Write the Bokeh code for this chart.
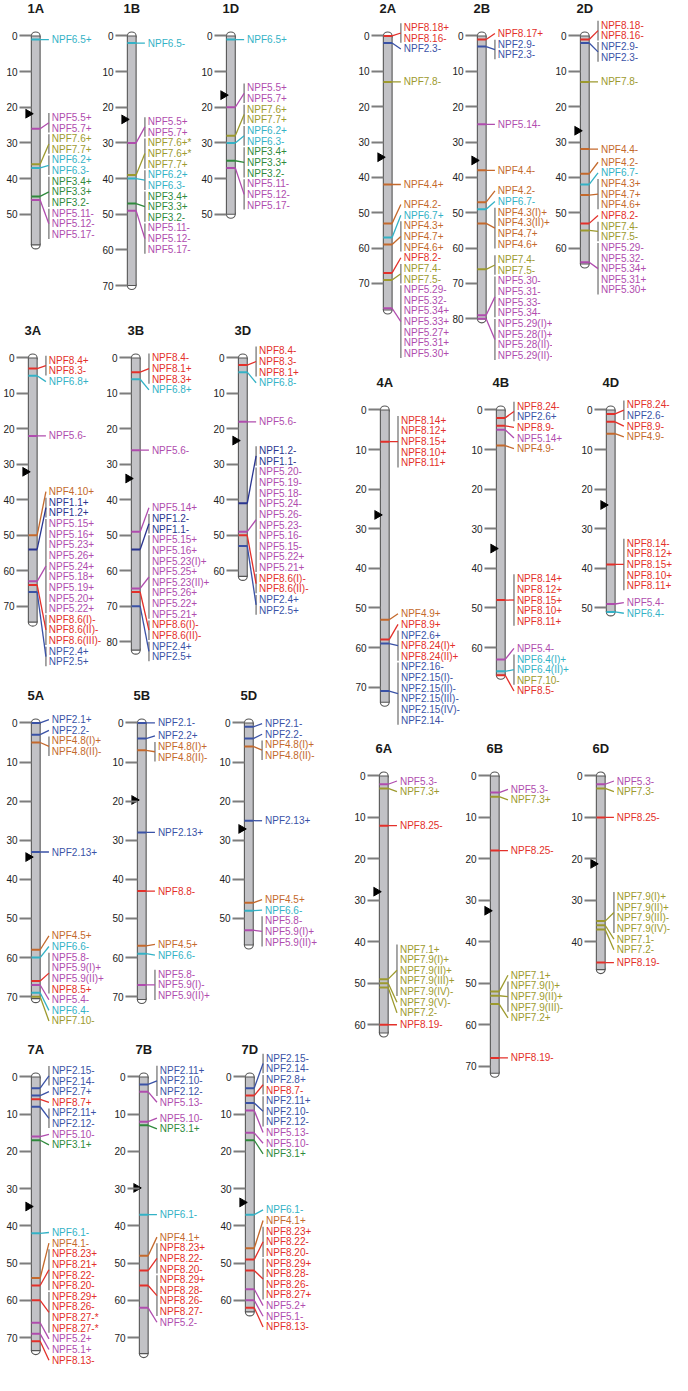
import math
from bokeh.plotting import figure
from bokeh.layouts import row, column
from bokeh.models import Range1d, FixedTicker, ColumnDataSource, Spacer
from bokeh.core.properties import value
from bokeh.embed import file_html
from bokeh.resources import INLINE

# ---------------- data ----------------
FAMILY_COLOR = {
    "NPF1": "#2a3590", "NPF2": "#3a52a6", "NPF3": "#2f8a3c", "NPF4": "#c4692c",
    "NPF5": "#b04cae", "NPF6": "#33b2c6", "NPF7": "#9d9a2e", "NPF8": "#e3302a",
}

CHR_LENGTH = {
    "1A": 58.6, "1B": 70, "1D": 50,
    "2A": 77.5, "2B": 80, "2D": 64.5,
    "3A": 74.5, "3B": 82.4, "3D": 61.6,
    "4A": 73.8, "4B": 67, "4D": 51,
    "5A": 70.5, "5B": 70.7, "5D": 56.8,
    "6A": 62, "6B": 71.7, "6D": 46.7,
    "7A": 73.5, "7B": 74.3, "7D": 63.1,
}
CENTROMERE = {
    "1A": 21.8, "1B": 23.4, "1D": 16.6,
    "2A": 34.3, "2B": 35.2, "2D": 26.8,
    "3A": 32.1, "3B": 34.0, "3D": 23.3,
    "4A": 26.5, "4B": 35.0, "4D": 24.0,
    "5A": 34.3, "5B": 19.7, "5D": 27.1,
    "6A": 27.9, "6B": 32.5, "6D": 21.2,
    "7A": 34.8, "7B": 29.8, "7D": 33.7,
}

# (position cM, family of the marker line, gene labels)
G_1A = [(1, "NPF6", ["NPF6.5+"]), (26, "NPF5", ["NPF5.5+", "NPF5.7+"]),
        (36, "NPF7", ["NPF7.6+", "NPF7.7+"]), (37, "NPF6", ["NPF6.2+", "NPF6.3-"]),
        (45, "NPF3", ["NPF3.4+", "NPF3.3+", "NPF3.2-"]),
        (46, "NPF5", ["NPF5.11-", "NPF5.12-", "NPF5.17-"])]
G_1B = [(2, "NPF6", ["NPF6.5-"]), (30, "NPF5", ["NPF5.5+", "NPF5.7+"]),
        (39, "NPF7", ["NPF7.6+*", "NPF7.6+*", "NPF7.7+"]), (40, "NPF6", ["NPF6.2+", "NPF6.3-"]),
        (47, "NPF3", ["NPF3.4+", "NPF3.3+", "NPF3.2-"]),
        (49, "NPF5", ["NPF5.11-", "NPF5.12-", "NPF5.17-"])]
G_1D = [(1, "NPF6", ["NPF6.5+"]), (20, "NPF5", ["NPF5.5+", "NPF5.7+"]),
        (28, "NPF7", ["NPF7.6+", "NPF7.7+"]), (30, "NPF6", ["NPF6.2+", "NPF6.3-"]),
        (35, "NPF3", ["NPF3.4+", "NPF3.3+", "NPF3.2-"]),
        (37, "NPF5", ["NPF5.11-", "NPF5.12-", "NPF5.17-"])]
G_2A = [(0, "NPF8", ["NPF8.18+", "NPF8.16-"]), (2, "NPF2", ["NPF2.3-"]), (13, "NPF7", ["NPF7.8-"]),
        (42, "NPF4", ["NPF4.4+"]), (53, "NPF4", ["NPF4.2-"]), (57, "NPF6", ["NPF6.7+"]),
        (59, "NPF4", ["NPF4.3+", "NPF4.7+", "NPF4.6+"]), (67, "NPF8", ["NPF8.2-"]),
        (69, "NPF7", ["NPF7.4-", "NPF7.5-"]),
        (77, "NPF5", ["NPF5.29-", "NPF5.32-", "NPF5.34+", "NPF5.33+", "NPF5.27+", "NPF5.31+", "NPF5.30+"])]
G_2B = [(1, "NPF8", ["NPF8.17+"]), (3, "NPF2", ["NPF2.9-", "NPF2.3-"]), (25, "NPF5", ["NPF5.14-"]),
        (38, "NPF4", ["NPF4.4-"]), (47, "NPF4", ["NPF4.2-"]), (49, "NPF6", ["NPF6.7-"]),
        (53, "NPF4", ["NPF4.3(I)+", "NPF4.3(II)+", "NPF4.7+", "NPF4.6+"]),
        (66, "NPF7", ["NPF7.4-", "NPF7.5-"]),
        (79, "NPF5", ["NPF5.30-", "NPF5.31-", "NPF5.33-", "NPF5.34-"]),
        (80, "NPF5", ["NPF5.29(I)+", "NPF5.28(I)+", "NPF5.28(II)-", "NPF5.29(II)-"])]
G_2D = [(1, "NPF8", ["NPF8.18-", "NPF8.16-"]), (2, "NPF2", ["NPF2.9-", "NPF2.3-"]), (13, "NPF7", ["NPF7.8-"]),
        (32, "NPF4", ["NPF4.4-"]), (39, "NPF4", ["NPF4.2-"]), (42, "NPF6", ["NPF6.7-"]),
        (45, "NPF4", ["NPF4.3+", "NPF4.7+", "NPF4.6+"]), (53, "NPF8", ["NPF8.2-"]),
        (55, "NPF7", ["NPF7.4-", "NPF7.5-"]),
        (64, "NPF5", ["NPF5.29-", "NPF5.32-", "NPF5.34+", "NPF5.31+", "NPF5.30+"])]
G_3A = [(3, "NPF8", ["NPF8.4+", "NPF8.3-"]), (5, "NPF6", ["NPF6.8+"]), (22, "NPF5", ["NPF5.6-"]),
        (50, "NPF4", ["NPF4.10+"]), (54, "NPF1", ["NPF1.1+", "NPF1.2+"]),
        (63, "NPF5", ["NPF5.15+", "NPF5.16+", "NPF5.23+", "NPF5.26+", "NPF5.24+", "NPF5.18+",
                      "NPF5.19+", "NPF5.20+", "NPF5.22+"]),
        (64, "NPF8", ["NPF8.6(I)-", "NPF8.6(II)-", "NPF8.6(III)-"]),
        (66, "NPF2", ["NPF2.4+", "NPF2.5+"])]
G_3B = [(4, "NPF8", ["NPF8.4-", "NPF8.1+", "NPF8.3+"]), (6, "NPF6", ["NPF6.8+"]), (26, "NPF5", ["NPF5.6-"]),
        (49, "NPF5", ["NPF5.14+"]), (54, "NPF1", ["NPF1.2-", "NPF1.1-"]),
        (65, "NPF5", ["NPF5.15+", "NPF5.16+", "NPF5.23(I)+", "NPF5.25+", "NPF5.23(II)+", "NPF5.26+",
                      "NPF5.22+", "NPF5.21+"]),
        (66, "NPF8", ["NPF8.6(I)-", "NPF8.6(II)-"]), (70, "NPF2", ["NPF2.4+", "NPF2.5+"])]
G_3D = [(2, "NPF8", ["NPF8.4-", "NPF8.3-", "NPF8.1+"]), (4, "NPF6", ["NPF6.8-"]), (18, "NPF5", ["NPF5.6-"]),
        (41, "NPF1", ["NPF1.2-", "NPF1.1-"]),
        (49, "NPF5", ["NPF5.20-", "NPF5.19-", "NPF5.18-", "NPF5.24-", "NPF5.26-", "NPF5.23-",
                      "NPF5.16-", "NPF5.15-", "NPF5.22+", "NPF5.21+"]),
        (50, "NPF8", ["NPF8.6(I)-", "NPF8.6(II)-"]), (53, "NPF2", ["NPF2.4+", "NPF2.5+"])]
G_4A = [(8, "NPF8", ["NPF8.14+", "NPF8.12+", "NPF8.15+", "NPF8.10+", "NPF8.11+"]),
        (53, "NPF4", ["NPF4.9+"]), (58, "NPF8", ["NPF8.9+"]),
        (59, "NPF2", ["NPF2.6+", "NPF8.24(I)+", "NPF8.24(II)+"]),
        (71, "NPF2", ["NPF2.16-", "NPF2.15(I)-", "NPF2.15(II)-", "NPF2.15(III)-", "NPF2.15(IV)-", "NPF2.14-"])]
G_4B = [(2, "NPF8", ["NPF8.24-", "NPF2.6+"]), (4, "NPF8", ["NPF8.9-"]), (5, "NPF5", ["NPF5.14+"]),
        (9, "NPF4", ["NPF4.9-"]),
        (48, "NPF8", ["NPF8.14+", "NPF8.12+", "NPF8.15+", "NPF8.10+", "NPF8.11+"]),
        (63, "NPF5", ["NPF5.4-"]), (66, "NPF6", ["NPF6.4(I)+", "NPF6.4(II)+", "NPF7.10-"]),
        (67, "NPF8", ["NPF8.5-"])]
G_4D = [(1, "NPF8", ["NPF8.24-", "NPF2.6-"]), (3, "NPF8", ["NPF8.9-"]), (6, "NPF4", ["NPF4.9-"]),
        (39, "NPF8", ["NPF8.14-", "NPF8.12+", "NPF8.15+", "NPF8.10+", "NPF8.11+"]),
        (49, "NPF5", ["NPF5.4-"]), (51, "NPF6", ["NPF6.4-"])]
G_5A = [(0, "NPF2", ["NPF2.1+"]), (3, "NPF2", ["NPF2.2-"]), (5, "NPF4", ["NPF4.8(I)+", "NPF4.8(II)-"]),
        (33, "NPF2", ["NPF2.13+"]), (58, "NPF4", ["NPF4.5+"]), (60, "NPF6", ["NPF6.6-"]),
        (66, "NPF8", ["NPF5.8-", "NPF5.9(I)+", "NPF5.9(II)+", "NPF8.5+"]),
        (67, "NPF5", ["NPF5.4-"]), (69, "NPF6", ["NPF6.4-"]), (70, "NPF7", ["NPF7.10-"])]
G_5B = [(0, "NPF2", ["NPF2.1-"]), (4, "NPF2", ["NPF2.2+"]), (7, "NPF4", ["NPF4.8(I)+", "NPF4.8(II)-"]),
        (28, "NPF2", ["NPF2.13+"]), (43, "NPF8", ["NPF8.8-"]), (57, "NPF4", ["NPF4.5+"]),
        (59, "NPF6", ["NPF6.6-"]), (67, "NPF5", ["NPF5.8-", "NPF5.9(I)-", "NPF5.9(II)+"])]
G_5D = [(1, "NPF2", ["NPF2.1-"]), (4, "NPF2", ["NPF2.2-"]), (6, "NPF4", ["NPF4.8(I)+", "NPF4.8(II)-"]),
        (25, "NPF2", ["NPF2.13+"]), (46, "NPF4", ["NPF4.5+"]), (48, "NPF6", ["NPF6.6-"]),
        (53, "NPF5", ["NPF5.8-", "NPF5.9(I)+", "NPF5.9(II)+"])]
G_6A = [(2, "NPF5", ["NPF5.3-"]), (3, "NPF7", ["NPF7.3+"]), (12, "NPF8", ["NPF8.25-"]),
        (49, "NPF7", ["NPF7.1+", "NPF7.9(I)+", "NPF7.9(II)+", "NPF7.9(III)+", "NPF7.9(IV)-"]),
        (50, "NPF7", ["NPF7.9(V)-"]), (51, "NPF7", ["NPF7.2-"]), (60, "NPF8", ["NPF8.19-"])]
G_6B = [(4, "NPF5", ["NPF5.3-"]), (5, "NPF7", ["NPF7.3+"]), (18, "NPF8", ["NPF8.25-"]),
        (52, "NPF7", ["NPF7.1+"]), (53, "NPF7", ["NPF7.9(I)+", "NPF7.9(II)+", "NPF7.9(III)-"]),
        (55, "NPF7", ["NPF7.2+"]), (68, "NPF8", ["NPF8.19-"])]
G_6D = [(2, "NPF5", ["NPF5.3-"]), (3, "NPF7", ["NPF7.3-"]), (10, "NPF8", ["NPF8.25-"]),
        (35, "NPF7", ["NPF7.9(I)+", "NPF7.9(II)+", "NPF7.9(III)-", "NPF7.9(IV)-"]),
        (36, "NPF7", ["NPF7.1-"]), (37, "NPF7", ["NPF7.2-"]), (45, "NPF8", ["NPF8.19-"])]
G_7A = [(3, "NPF2", ["NPF2.15-", "NPF2.14-"]), (5, "NPF2", ["NPF2.7+"]), (6, "NPF8", ["NPF8.7+"]),
        (8, "NPF2", ["NPF2.11+", "NPF2.12-"]), (16, "NPF5", ["NPF5.10-"]), (17, "NPF3", ["NPF3.1+"]),
        (42, "NPF6", ["NPF6.1-"]), (54, "NPF4", ["NPF4.1-"]),
        (56, "NPF8", ["NPF8.23+", "NPF8.21+", "NPF8.22-", "NPF8.20-"]),
        (60, "NPF8", ["NPF8.29+", "NPF8.26-", "NPF8.27-*", "NPF8.27-*"]),
        (66, "NPF5", ["NPF5.2+"]), (69, "NPF5", ["NPF5.1+"]), (71, "NPF8", ["NPF8.13-"])]
G_7B = [(2, "NPF2", ["NPF2.11+", "NPF2.10-", "NPF2.12-"]), (4, "NPF5", ["NPF5.13-"]),
        (12, "NPF5", ["NPF5.10-"]), (13, "NPF3", ["NPF3.1+"]), (37, "NPF6", ["NPF6.1-"]),
        (48, "NPF4", ["NPF4.1+"]), (52, "NPF8", ["NPF8.23+", "NPF8.22-", "NPF8.20-"]),
        (56, "NPF8", ["NPF8.29+", "NPF8.28-", "NPF8.26-", "NPF8.27-"]), (62, "NPF5", ["NPF5.2-"])]
G_7D = [(3, "NPF2", ["NPF2.15-", "NPF2.14-"]), (5, "NPF8", ["NPF2.8+", "NPF8.7-"]),
        (7, "NPF2", ["NPF2.11+", "NPF2.10-", "NPF2.12-"]), (9, "NPF5", ["NPF5.13-"]),
        (15, "NPF5", ["NPF5.10-"]), (17, "NPF3", ["NPF3.1+"]), (37, "NPF6", ["NPF6.1-"]),
        (46, "NPF4", ["NPF4.1+"]), (49, "NPF8", ["NPF8.23+", "NPF8.22-", "NPF8.20-"]),
        (52, "NPF8", ["NPF8.29+", "NPF8.28-", "NPF8.26-", "NPF8.27+"]),
        (57, "NPF5", ["NPF5.2+"]), (60, "NPF5", ["NPF5.1-"]), (62, "NPF8", ["NPF8.13-"])]

GROUPS = {"1A": G_1A, "1B": G_1B, "1D": G_1D, "2A": G_2A, "2B": G_2B, "2D": G_2D,
          "3A": G_3A, "3B": G_3B, "3D": G_3D, "4A": G_4A, "4B": G_4B, "4D": G_4D,
          "5A": G_5A, "5B": G_5B, "5D": G_5D, "6A": G_6A, "6B": G_6B, "6D": G_6D,
          "7A": G_7A, "7B": G_7B, "7D": G_7D}

# ---------------- layout constants ----------------
ROW_CHROMS = {1: ["1A", "1B", "1D"], 2: ["2A", "2B", "2D"], 3: ["3A", "3B", "3D"],
              4: ["4A", "4B", "4D"], 5: ["5A", "5B", "5D"], 6: ["6A", "6B", "6D"],
              7: ["7A", "7B", "7D"]}
ROW_PX_PER_CM = {1: 3.62, 2: 3.59, 3: 3.60, 4: 4.02, 5: 3.97, 6: 4.21, 7: 3.78}
ROW_HEIGHT_PX = {1: 327.3, 3: 371.0, 5: 359.0, 7: 333.7, 2: 380.0, 4: 371.3, 6: 348.7}
REF_X = {"1A": 26, "1B": 125.7, "1D": 227, "2A": 389.3, "2B": 486.7, "2D": 592.3,
         "3A": 23.3, "3B": 129.3, "3D": 240, "4A": 386, "4B": 506, "4D": 619.3,
         "5A": 26.7, "5B": 136, "5D": 245.7, "6A": 385.3, "6B": 500, "6D": 609.3,
         "7A": 26.7, "7B": 137.7, "7D": 247.3}
GV = 0.985          # vertical compression to fit window
TOP_PX = 36         # space above 0 cM
STEP_PX = 10.8      # label line spacing
X0, XS, XREF0 = 34, 0.97, 23.3
MB_LEFT = 20
CO = 6              # chromosome offset inside frame
CW = 9              # chromosome width (px)
BX = CW + 9         # bracket x
LX = CW + 12        # label x
FONT = value("Liberation Sans")


def fam_of(label):
    return label.split(".")[0]


def place_labels(groups, step):
    gs = sorted(groups, key=lambda g: g[0])
    blocks = []
    for i, (pos, fam, labels) in enumerate(gs):
        blocks.append([pos * len(labels), len(labels), [i]])
        while len(blocks) > 1:
            s1, n1, m1 = blocks[-2]
            s2, n2, m2 = blocks[-1]
            if s1 / n1 + n1 * step / 2 > s2 / n2 - n2 * step / 2 - 1e-9:
                blocks[-2:] = [[s1 + s2, n1 + n2, m1 + m2]]
            else:
                break
    out = []
    for s, n, members in blocks:
        top = s / n - n * step / 2
        k = 0
        for gi in members:
            m = len(gs[gi][2])
            out.append((gs[gi], [top + (k + j + 0.5) * step for j in range(m)]))
            k += m
    return out


def make_fig(name, width, height, k_ref):
    kk = k_ref * GV
    T = TOP_PX * GV
    L = CHR_LENGTH[name]
    p = figure(width=width, height=height,
               x_range=Range1d(-CO, width - MB_LEFT - CO),
               y_range=Range1d((height - T) / kk, -T / kk),
               output_backend="svg", toolbar_location=None, x_axis_location=None,
               min_border=0, min_border_left=MB_LEFT)
    p.outline_line_color = None
    p.grid.visible = False
    p.background_fill_color = "white"
    p.border_fill_color = "white"
    ax = p.yaxis[0]
    ax.ticker = FixedTicker(ticks=list(range(0, int(L // 10) * 10 + 1, 10)))
    ax.axis_line_color = None
    ax.major_tick_in = CO
    ax.major_tick_out = 6
    ax.major_tick_line_color = "#7d7d7d"
    ax.major_tick_line_width = 2
    ax.minor_tick_line_color = None
    ax.major_label_standoff = 2
    ax.major_label_text_font = "Liberation Sans"
    ax.major_label_text_font_size = "10px"
    ax.major_label_text_color = "#222222"

    # chromosome
    cap_h = 8 / kk
    p.ellipse(x=[CW / 2, CW / 2], y=[0, L], width=CW, height=cap_h,
              fill_color="white", line_color="#555555", line_width=1.1)
    p.quad(left=[0], right=[CW], top=[0], bottom=[L], fill_color="#c2c2c6",
           line_color="#555555", line_width=1.1)
    p.scatter(x=[-3.4], y=[CENTROMERE[name]], marker="triangle", size=9,
              angle=-math.pi / 2, color="black")
    p.text(x=[CW / 2], y=[-28 * GV / kk], text=[name], text_align="center",
           text_baseline="middle", text_font=FONT, text_font_size="13px",
           text_font_style="bold", text_color="#1a1a1a")

    step = STEP_PX * GV / kk
    mk = dict(x0=[], y0=[], x1=[], y1=[], c=[])
    cn = dict(x0=[], y0=[], x1=[], y1=[], c=[])
    br = dict(x0=[], y0=[], x1=[], y1=[])
    tx = dict(x=[], y=[], t=[], c=[])
    for (pos, fam, labels), ys in place_labels(GROUPS[name], step):
        col = FAMILY_COLOR[fam]
        yc = sum(ys) / len(ys)
        mk["x0"].append(0); mk["y0"].append(pos); mk["x1"].append(CW); mk["y1"].append(pos); mk["c"].append(col)
        cn["x0"].append(CW); cn["y0"].append(pos); cn["x1"].append(BX); cn["y1"].append(yc); cn["c"].append(col)
        if len(labels) > 1:
            br["x0"].append(BX); br["x1"].append(BX)
            br["y0"].append(ys[0] - 0.42 * step); br["y1"].append(ys[-1] + 0.42 * step)
        for lab, y in zip(labels, ys):
            tx["x"].append(LX); tx["y"].append(y); tx["t"].append(lab)
            tx["c"].append(FAMILY_COLOR[fam_of(lab)])
    p.segment("x0", "y0", "x1", "y1", source=ColumnDataSource(br), line_color="#8a8a8a", line_width=1.5)
    p.segment("x0", "y0", "x1", "y1", source=ColumnDataSource(cn), line_color="c", line_width=1.3)
    p.segment("x0", "y0", "x1", "y1", source=ColumnDataSource(mk), line_color="c", line_width=2)
    p.text("x", "y", text="t", text_color="c", source=ColumnDataSource(tx),
           text_font=FONT, text_font_size="10px", text_baseline="middle", text_align="left")
    return p


def fig_left(n):
    return int(round(X0 + (REF_X[n] - XREF0) * XS - (MB_LEFT + CO)))


def build_column(rows, col_left, col_right):
    kids = []
    for r in rows:
        names = ROW_CHROMS[r]
        lefts = [fig_left(n) for n in names]
        h = int(round(ROW_HEIGHT_PX[r] * GV))
        items = []
        if lefts[0] > col_left:
            items.append(Spacer(width=lefts[0] - col_left, height=h))
        for i, n in enumerate(names):
            right = lefts[i + 1] if i < len(names) - 1 else col_right
            items.append(make_fig(n, right - lefts[i], h, ROW_PX_PER_CM[r]))
        kids.append(row(*items, spacing=0))
    return column(*kids, spacing=0)


LEFT_ROWS = [1, 3, 5, 7]
RIGHT_ROWS = [2, 4, 6]
PAGE_LEFT, PAGE_RIGHT = 8, 680
split = min(fig_left(ROW_CHROMS[r][0]) for r in RIGHT_ROWS)
left_col = build_column(LEFT_ROWS, PAGE_LEFT, split)
right_col = build_column(RIGHT_ROWS, split, PAGE_RIGHT)
layout = row(left_col, right_col, spacing=0)

open("out.html", "w").write(file_html(layout, INLINE))
